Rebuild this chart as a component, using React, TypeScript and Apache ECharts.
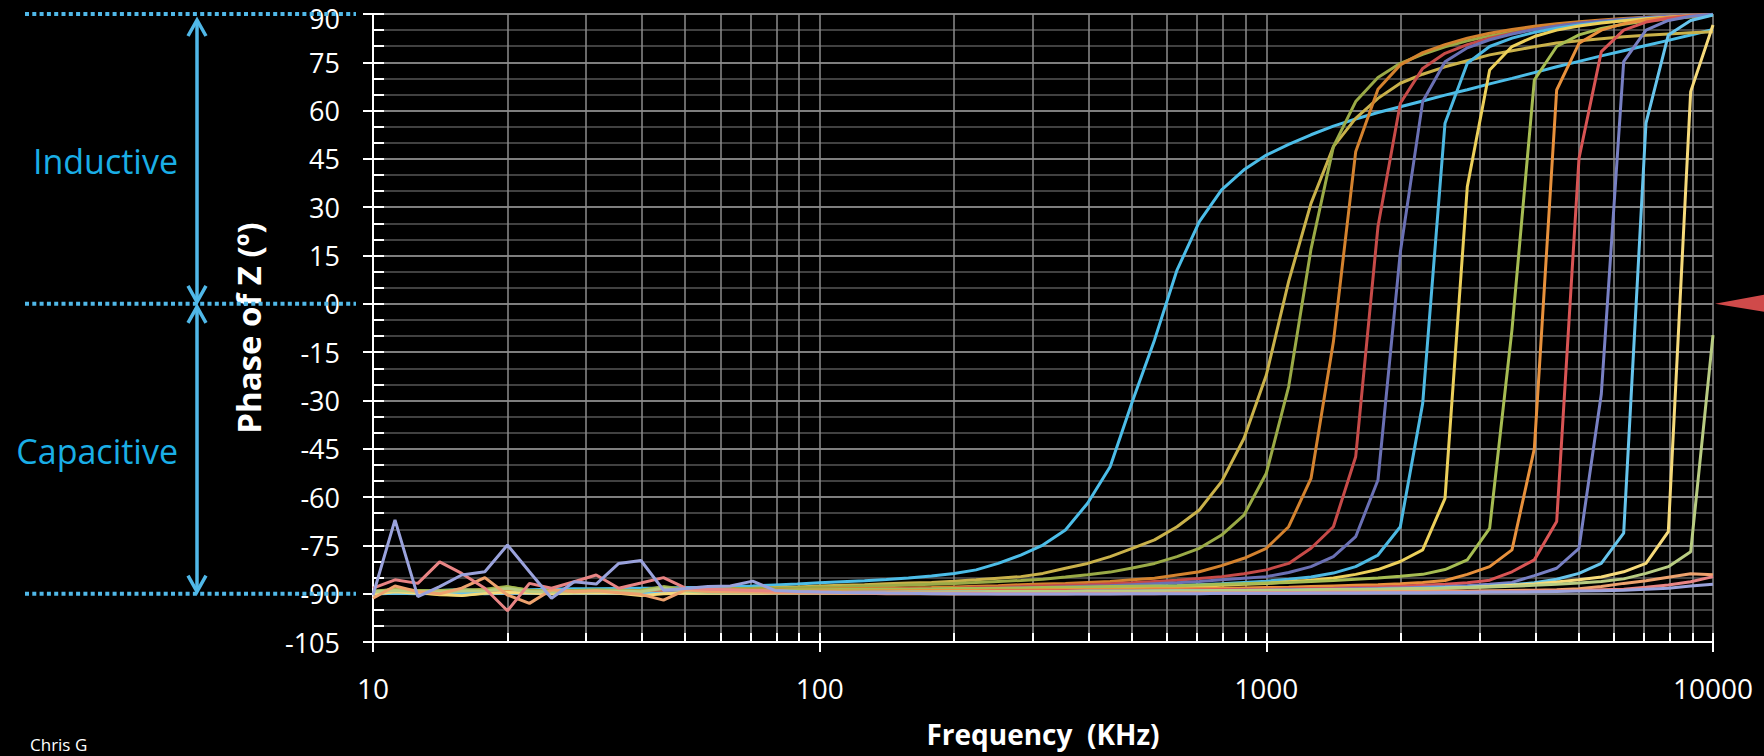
import React, { useEffect, useRef } from 'react';
import * as echarts from 'echarts';

const FONT = '"Open Sans", "Noto Sans", sans-serif';

// sample frequencies (kHz), 20 points per decade
const FREQS = [
  10, 11.2, 12.6, 14.1, 15.8, 17.8, 20, 22.4, 25.1, 28.2, 31.6, 35.5, 39.8, 44.7, 50.1, 56.2, 63.1, 70.8, 79.4, 89.1,
  100, 112, 126, 141, 158, 178, 200, 224, 251, 282, 316, 355, 398, 447, 501, 562, 631, 708, 794, 891,
  1000, 1122, 1259, 1413, 1585, 1778, 1995, 2239, 2512, 2818, 3162, 3548, 3981, 4467, 5012, 5623, 6310, 7079, 7943, 8913, 10000,
];

const X_LABELS = [10, 100, 1000, 10000];
const X_MINOR_TICKS = [
  10, 20, 30, 40, 50, 60, 70, 80, 90,
  100, 200, 300, 400, 500, 600, 700, 800, 900,
  1000, 2000, 3000, 4000, 5000, 6000, 7000, 8000, 9000, 10000,
];

const S1 = [
  -89.5, -89, -89.2, -89, -88.8, -89, -88.9, -88.8, -88.6, -88.5, -88.5, -88.4, -88.3, -88.2, -88.1,
  -88, -87.8, -87.6, -87.3, -87, -86.6, -86.3, -86, -85.6, -85.1, -84.5, -83.7, -82.6, -80.6, -78,
  -74.9, -70.2, -61.9, -50.6, -30.4, -11.2, 10.5, 25.5, 35.4, 41.6, 46.2, 49.5, 52.5, 55.2, 57.4,
  59.4, 61.2, 63, 64.8, 66.5, 68.3, 70, 71.8, 73.6, 75.3, 77, 78.6, 80.2, 81.8, 83.5, 85.2,
];
const S2 = [
  -89.8, -88.5, -89.5, -89.2, -89, -89.5, -88.8, -89.3, -89, -89.2, -89, -88.9, -89, -88.8, -88.7,
  -88.6, -88.4, -88.3, -88.1, -87.9, -87.6, -87.4, -87.2, -86.9, -86.7, -86.5, -86.1, -85.7, -85.2, -84.7,
  -83.7, -82.1, -80.6, -78.5, -75.9, -73.3, -69.2, -64, -55.2, -41.8, -22.1, 7, 31.2, 48.8, 57.6,
  63.8, 68.5, 71.3, 73.6, 75.5, 77.3, 78.6, 79.8, 81, 81.7, 82.3, 82.9, 83.4, 83.8, 84.2, 84.5,
];
const S3 = [
  -89.2, -88.8, -89, -89.3, -88.9, -88.6, -87.8, -88.9, -89.1, -89, -88.8, -89, -88.9, -87.8, -88.7,
  -88.6, -88.5, -88.4, -88.3, -88.2, -88, -87.9, -87.7, -87.5, -87.3, -87.1, -86.8, -86.5, -86.2, -85.9,
  -85.5, -84.8, -84.1, -83.3, -82, -80.6, -78.5, -75.9, -71.8, -65.6, -52.6, -25.7, 17, 48.8, 62.8,
  70.3, 74.7, 77.5, 79.8, 81.7, 83.2, 84.4, 85.4, 86.3, 87, 87.6, 88.1, 88.6, 89, 89.4, 89.7,
];
const S4 = [
  -89.6, -89, -89.4, -89.2, -89.1, -89.3, -89, -89.2, -89.4, -89.1, -89, -89.2, -89.1, -89, -89,
  -88.9, -88.9, -88.8, -88.8, -88.7, -88.6, -88.5, -88.4, -88.3, -88.2, -88.1, -87.9, -87.7, -87.5, -87.2,
  -87, -86.8, -86.5, -86.2, -85.7, -85.2, -84.2, -83.2, -81.3, -79, -75.9, -69.2, -54.2, -11.8, 47.2,
  66.6, 74.2, 78, 80.5, 82.5, 84, 85.2, 86.2, 87, 87.6, 88.1, 88.6, 89, 89.3, 89.6, 89.8,
];
const S5 = [
  -89.7, -89.3, -89.5, -89.4, -89.2, -89.4, -89.3, -89.5, -89.3, -89.4, -89.2, -89.3, -89.2, -89.3, -89.2,
  -89.1, -89.1, -89, -89, -88.9, -88.9, -88.8, -88.7, -88.6, -88.5, -88.4, -88.3, -88.1, -88, -87.8,
  -87.6, -87.4, -87.2, -86.9, -86.6, -86.2, -85.8, -85.3, -84.7, -83.8, -82.6, -80.6, -75.9, -69.2, -47.5,
  24, 62.3, 73.1, 77.8, 80.5, 82.5, 84, 85.3, 86.3, 87.1, 87.8, 88.3, 88.8, 89.2, 89.5, 89.8,
];
const S6 = [
  -89.8, -89.5, -89.6, -89.5, -89.4, -89.6, -89.5, -89.4, -89.6, -89.5, -89.4, -89.5, -89.4, -89.5, -89.4,
  -89.3, -89.3, -89.2, -89.2, -89.1, -89.1, -89, -89, -88.9, -88.8, -88.7, -88.6, -88.5, -88.4, -88.2,
  -88.1, -87.9, -87.7, -87.5, -87.2, -86.9, -86.6, -86.2, -85.7, -85.2, -84.7, -83.4, -81.6, -78.5, -72.3,
  -54.7, 16, 62.8, 75.2, 79.5, 82, 83.8, 85.2, 86.3, 87.1, 87.8, 88.4, 88.9, 89.3, 89.6, 89.8,
];
const S7 = [
  -89.9, -89.6, -89.7, -89.6, -89.5, -89.7, -89.6, -89.5, -89.7, -89.6, -89.5, -89.6, -89.5, -89.6, -89.5,
  -89.5, -89.4, -89.4, -89.3, -89.3, -89.2, -89.2, -89.1, -89.1, -89, -89, -88.9, -88.8, -88.7, -88.6,
  -88.5, -88.4, -88.2, -88.1, -87.9, -87.7, -87.5, -87.2, -86.9, -86.5, -86.1, -85.5, -84.8, -83.6, -81.6,
  -78, -69.2, -30.9, 56.1, 74.7, 79.9, 82.5, 84.3, 85.6, 86.6, 87.4, 88, 88.6, 89, 89.4, 89.7,
];
const S8 = [
  -90, -89.4, -89.6, -90.3, -90.5, -89.8, -89.5, -89.6, -89.8, -89.7, -89.6, -89.7, -90.2, -89.8, -89.6,
  -89.6, -89.5, -89.5, -89.4, -89.4, -89.3, -89.3, -89.2, -89.2, -89.1, -89.1, -89, -89, -88.9, -88.8,
  -88.7, -88.6, -88.5, -88.4, -88.2, -88.1, -87.9, -87.7, -87.4, -87.1, -86.8, -86.3, -85.8, -85.1, -84,
  -82.5, -80, -76.4, -60.4, 36.4, 72.6, 79.9, 83, 85, 86.3, 87.2, 87.9, 88.5, 89, 89.4, 89.7,
];
const S9 = [
  -89.4, -88.6, -89.1, -89, -88.8, -89.2, -87.9, -89, -89.2, -89.1, -89, -89.1, -89, -88, -88.9,
  -89, -89, -88.9, -88.9, -88.8, -88.8, -88.7, -88.7, -88.6, -88.6, -88.5, -88.4, -88.4, -88.3, -88.2,
  -88.1, -88, -87.9, -87.8, -87.7, -87.6, -87.5, -87.3, -87.1, -86.9, -86.7, -86.5, -86.2, -85.9, -85.5,
  -85.1, -84.6, -84, -82.5, -79.5, -69.7, -8, 69.5, 79.9, 83.5, 85.5, 86.8, 87.8, 88.5, 89.1, 89.6,
];
const S10 = [
  -89.7, -89.2, -89.5, -89.3, -89.4, -89.6, -89.3, -89.5, -89.4, -89.5, -89.3, -89.4, -89.5, -89.4, -89.3,
  -89.4, -89.4, -89.3, -89.3, -89.3, -89.2, -89.2, -89.2, -89.1, -89.1, -89, -89, -89, -88.9, -88.9,
  -88.8, -88.8, -88.7, -88.7, -88.6, -88.5, -88.5, -88.4, -88.3, -88.2, -88.1, -88, -87.8, -87.6, -87.4,
  -87.2, -86.9, -86.5, -85.9, -84, -81.6, -76.4, -45, 66.4, 80.9, 85, 87, 88.2, 89, 89.5, 89.8,
];
const S11 = [
  -89.9, -89.6, -89.8, -89.7, -89.6, -89.8, -89.7, -89.6, -89.8, -89.7, -89.6, -89.7, -89.8, -89.7, -89.6,
  -89.6, -89.6, -89.6, -89.5, -89.5, -89.5, -89.5, -89.4, -89.4, -89.4, -89.3, -89.3, -89.3, -89.2, -89.2,
  -89.2, -89.1, -89.1, -89, -89, -88.9, -88.9, -88.8, -88.7, -88.7, -88.6, -88.5, -88.4, -88.3, -88.1,
  -87.9, -87.7, -87.4, -87.1, -86.6, -85.8, -83.2, -79.5, -67.6, 45.2, 78.3, 85, 87.5, 88.7, 89.4, 89.8,
];
const S12 = [
  -90, -89.8, -89.9, -89.8, -89.7, -89.9, -89.8, -89.7, -89.9, -89.8, -89.7, -89.8, -89.9, -89.8, -89.7,
  -89.7, -89.7, -89.7, -89.6, -89.6, -89.6, -89.6, -89.5, -89.5, -89.5, -89.5, -89.4, -89.4, -89.4, -89.3,
  -89.3, -89.3, -89.2, -89.2, -89.2, -89.1, -89.1, -89, -89, -88.9, -88.9, -88.8, -88.7, -88.6, -88.5,
  -88.4, -88.2, -88, -87.8, -87.5, -87.1, -86.5, -84.4, -82.1, -75.9, -28, 75.2, 85, 88, 89.3, 89.9,
];
const S13 = [
  -90.1, -89.9, -90, -89.9, -89.8, -90, -89.9, -89.8, -90, -89.9, -89.8, -89.9, -90, -89.9, -89.8,
  -89.8, -89.8, -89.8, -89.7, -89.7, -89.7, -89.7, -89.6, -89.6, -89.6, -89.6, -89.5, -89.5, -89.5, -89.5,
  -89.4, -89.4, -89.4, -89.3, -89.3, -89.3, -89.2, -89.2, -89.1, -89.1, -89, -89, -88.9, -88.8, -88.7,
  -88.6, -88.5, -88.3, -88.1, -87.9, -87.6, -87.2, -86.6, -85.5, -83.7, -80.6, -71.2, 56.1, 83.5, 88, 89.7,
];
const S14 = [
  -90.2, -89.4, -89.9, -90.1, -90.6, -89.9, -89.6, -89.8, -90, -89.8, -89.7, -89.9, -90.6, -90, -89.8,
  -89.9, -89.9, -89.9, -89.8, -89.8, -89.8, -89.8, -89.7, -89.7, -89.7, -89.7, -89.6, -89.6, -89.6, -89.6,
  -89.5, -89.5, -89.5, -89.5, -89.4, -89.4, -89.4, -89.3, -89.3, -89.2, -89.2, -89.1, -89.1, -89, -88.9,
  -88.8, -88.7, -88.5, -88.3, -88.1, -87.8, -87.4, -87, -86.4, -85.7, -84.8, -83.2, -80.6, -70.7, 65.9, 86.6,
];
const S15 = [
  -89.5, -89, -89.3, -89.4, -89.2, -89.1, -88.4, -89.3, -89.5, -89.4, -89.3, -89.2, -89.4, -88.3, -89.2,
  -89.6, -89.6, -89.6, -89.6, -89.5, -89.5, -89.5, -89.5, -89.5, -89.4, -89.4, -89.4, -89.4, -89.3, -89.3,
  -89.3, -89.3, -89.2, -89.2, -89.2, -89.1, -89.1, -89.1, -89, -89, -88.9, -88.9, -88.8, -88.7, -88.7,
  -88.6, -88.5, -88.4, -88.3, -88.1, -87.9, -87.7, -87.4, -87.1, -86.7, -86.2, -85.4, -83.7, -81.6, -77, -9.7,
];
const S16 = [
  -91.4, -87.6, -89.4, -90, -88.3, -85, -90.4, -93, -88.8, -89.4, -89.1, -89.7, -90.2, -92, -88.8,
  -89.3, -89.4, -89.5, -89.6, -89.7, -89.8, -89.9, -89.9, -90, -90, -90, -90.1, -90, -90, -90,
  -90, -90, -89.9, -89.9, -89.9, -89.9, -89.8, -89.8, -89.8, -89.7, -89.7, -89.6, -89.6, -89.5, -89.5,
  -89.4, -89.3, -89.3, -89.2, -89.2, -89.1, -89, -88.9, -88.8, -88.5, -87.8, -86.8, -86, -84.9, -83.8, -84.1,
];
const S17 = [
  -88.3, -85.7, -86.8, -80.1, -83.7, -88.3, -95.3, -86.8, -88.3, -86.3, -84.2, -88.3, -86.7, -85, -88.3,
  -88.6, -88.8, -89, -89.2, -89.4, -89.5, -89.6, -89.7, -89.8, -89.8, -89.9, -89.9, -89.9, -90, -90,
  -90, -90, -90, -90, -90, -90, -89.9, -89.9, -89.9, -89.9, -89.8, -89.8, -89.8, -89.7, -89.7,
  -89.7, -89.6, -89.6, -89.5, -89.5, -89.4, -89.3, -89.2, -89.1, -89, -88.8, -88.6, -88, -87.3, -86.3, -84.7,
];
const S18 = [
  -90.4, -67.1, -90.9, -87.8, -84.2, -83.2, -74.9, -83.2, -91.4, -86.3, -87, -80.6, -79.7, -88.9, -88.4,
  -87.8, -87.6, -86.1, -89, -89.3, -89.5, -89.6, -89.7, -89.8, -89.9, -90, -90, -90.1, -90.1, -90.1,
  -90.1, -90.1, -90.1, -90.1, -90, -90, -90, -90, -89.9, -89.9, -89.9, -89.9, -89.8, -89.8, -89.8,
  -89.7, -89.7, -89.7, -89.6, -89.6, -89.5, -89.5, -89.4, -89.3, -89.2, -89.1, -88.9, -88.6, -88.3, -87.6, -87.1,
];

const SERIES_VALUES = [S1, S2, S3, S4, S5, S6, S7, S8, S9, S10, S11, S12, S13, S14, S15, S16, S17, S18];
const SERIES_COLORS = [
  '#4cbde8', '#c9b14a', '#9aaa46', '#d4822e', '#c64a48', '#6a70b4',
  '#4cb8e2', '#ecd05a', '#a6bc52', '#e8913c', '#d85454', '#7880c4',
  '#66c4ec', '#f6da7a', '#b8cc82', '#eea26e', '#e88484', '#9aa2dc',
];

const BLUE = '#50b8e8';
const TEXT_BLUE = '#1aaee6';

export default function App() {
  const ref = useRef<HTMLDivElement>(null);

  useEffect(() => {
    if (!ref.current) return;
    const chart = echarts.init(ref.current, null, { renderer: 'svg' });

    const series: any[] = SERIES_VALUES.map((vals, i) => ({
      type: 'line',
      name: 'S' + (i + 1),
      data: FREQS.map((f, k) => [f, vals[k]]),
      showSymbol: false,
      symbol: 'none',
      smooth: false,
      lineStyle: { color: SERIES_COLORS[i], width: 3 },
      itemStyle: { color: SERIES_COLORS[i] },
      z: 3,
    }));

    const option: any = {
      animation: false,
      backgroundColor: '#000',
      textStyle: { fontFamily: FONT },
      grid: { left: 373, right: 51, top: 14, bottom: 114, containLabel: false, outerBoundsMode: 'none' },
      xAxis: [
        {
          type: 'log',
          logBase: 10,
          min: 10,
          max: 10000,
          position: 'bottom',
          name: 'Frequency  (KHz)',
          nameLocation: 'middle',
          nameGap: 78,
          nameTextStyle: { color: '#fff', fontSize: 28, fontWeight: 'bold', fontFamily: FONT },
          axisLine: { show: true, onZero: false, lineStyle: { color: '#fff', width: 2 } },
          axisTick: { show: true, inside: false, length: 10, customValues: X_LABELS, lineStyle: { color: '#fff', width: 2 } },
          axisLabel: {
            color: '#fff',
            fontSize: 28,
            margin: 32,
            fontFamily: FONT,
            customValues: X_LABELS,
            formatter: (v: number) => String(Math.round(v)),
          },
          splitLine: { show: false },
        },
        {
          type: 'log',
          logBase: 10,
          min: 10,
          max: 10000,
          position: 'bottom',
          axisLine: { show: false, onZero: false },
          axisTick: { show: true, inside: true, length: 9, customValues: X_MINOR_TICKS, lineStyle: { color: '#fff', width: 2 } },
          axisLabel: { show: false },
          splitLine: { show: true, lineStyle: { color: '#8c8c8c', width: 1.5 } },
        },
      ],
      yAxis: [
        {
          type: 'value',
          min: -105,
          max: 90,
          interval: 15,
          position: 'left',
          name: 'Phase of Z (º)',
          nameLocation: 'middle',
          nameRotate: 90,
          nameGap: 108,
          nameTextStyle: { color: '#fff', fontSize: 33, fontWeight: 'bold', fontFamily: FONT },
          axisLine: { show: true, onZero: false, lineStyle: { color: '#fff', width: 2 } },
          axisTick: { show: true, inside: false, length: 10, lineStyle: { color: '#fff', width: 2 } },
          axisLabel: {
            color: '#fff',
            fontSize: 27,
            lineHeight: 24,
            margin: 33,
            fontFamily: FONT,
            formatter: (v: number) => (v === 90 ? '{top|90}' : String(v)),
            rich: {
              top: { color: '#fff', fontSize: 27, lineHeight: 24, fontFamily: FONT, padding: [8, 0, 0, 0] },
            },
          },
          splitLine: { show: true, lineStyle: { color: '#a8a8a8', width: 1.5 } },
          minorTick: { show: false, splitNumber: 3 },
          minorSplitLine: { show: true, lineStyle: { color: '#575757', width: 1.5 } },
        },
        {
          type: 'value',
          min: -105,
          max: 90,
          interval: 5,
          position: 'left',
          axisLine: { show: false, onZero: false },
          axisTick: { show: true, inside: true, length: 11, lineStyle: { color: '#fff', width: 2 } },
          axisLabel: { show: false },
          splitLine: { show: false },
        },
      ],
      series,
    };

    chart.setOption(option);

    const py = (v: number) => chart.convertToPixel({ yAxisIndex: 0 }, v) as number;
    const px = (f: number) => chart.convertToPixel({ xAxisIndex: 0 }, f) as number;
    const y90 = py(90);
    const y0 = py(0);
    const ym90 = py(-90);
    const xr = px(10000);
    const ax = 197;

    const dotted = (y: number) => ({
      type: 'line',
      shape: { x1: 25, y1: y, x2: 356, y2: y },
      style: { stroke: BLUE, lineWidth: 4, lineDash: [4, 3.3] },
      z: 1,
    });
    const head = (tip: number, dir: number) => ({
      type: 'polyline',
      shape: { points: [[ax - 9, tip + dir * 16], [ax, tip], [ax + 9, tip + dir * 16]] },
      style: { stroke: BLUE, lineWidth: 3.5, fill: null },
      z: 1,
    });

    chart.setOption({
      graphic: [
        dotted(y90),
        dotted(y0),
        dotted(ym90),
        {
          type: 'line',
          shape: { x1: ax, y1: y90 + 6, x2: ax, y2: y0 - 2 },
          style: { stroke: BLUE, lineWidth: 3.5 },
          z: 1,
        },
        {
          type: 'line',
          shape: { x1: ax, y1: y0 + 3, x2: ax, y2: ym90 - 2 },
          style: { stroke: BLUE, lineWidth: 3.5 },
          z: 1,
        },
        head(y90 + 6, 1),
        head(y0 - 2, -1),
        head(y0 + 3, 1),
        head(ym90 - 2, -1),
        {
          type: 'text',
          x: 178,
          y: (y90 + y0) / 2 + 2,
          style: {
            text: 'Inductive',
            fill: TEXT_BLUE,
            font: '34px ' + FONT,
            textAlign: 'right',
            textVerticalAlign: 'middle',
          },
          z: 2,
        },
        {
          type: 'text',
          x: 178,
          y: (y0 + ym90) / 2 + 2,
          style: {
            text: 'Capacitive',
            fill: TEXT_BLUE,
            font: '34px ' + FONT,
            textAlign: 'right',
            textVerticalAlign: 'middle',
          },
          z: 2,
        },
        {
          type: 'polygon',
          shape: { points: [[xr + 2, y0], [1764, y0 - 9], [1764, y0 + 8]] },
          style: { fill: '#d04a4a' },
          z: 2,
        },
        {
          type: 'text',
          x: 30,
          y: 736,
          style: {
            text: 'Chris G',
            fill: '#fff',
            font: '17px ' + FONT,
            textAlign: 'left',
            textVerticalAlign: 'top',
          },
          z: 2,
        },
      ],
    });

    return () => chart.dispose();
  }, []);

  return (
    <div
      ref={ref}
      style={{ position: 'fixed', left: 0, top: 0, width: '1764px', height: '756px', background: '#000' }}
    />
  );
}
